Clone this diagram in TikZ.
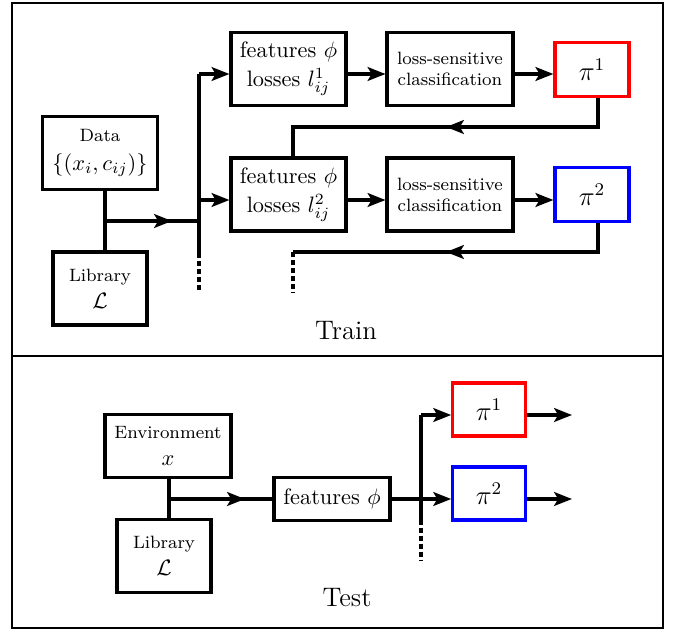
\documentclass[tikz,border=0pt]{standalone}
\usetikzlibrary{arrows.meta}
\begin{document}
\begin{tikzpicture}[x=0.448pt,y=-0.448pt,
 box/.style={draw,line width=1.4pt,inner sep=0pt,align=center},
 wire/.style={line width=1.4pt},
 arr/.style={line width=1.4pt,-{Stealth[length=8pt,width=6.2pt,inset=1.8pt]}},
 dashwire/.style={line width=1.4pt,dash pattern=on 2.2pt off 1.4pt},
 frame/.style={line width=0.8pt}]
\useasboundingbox (0,0) rectangle (681,629);
% frames
\coordinate (ftl) at (12,3);
\coordinate (fbr) at (663,628);
\coordinate (fml) at (12,356);
\coordinate (fmr) at (663,356);
\draw[frame] (ftl) rectangle (fbr);
\draw[frame] (fml) -- (fmr);

% ---------- Train ----------
\node[box,minimum width=51.5pt,minimum height=32.7pt] (data) at (100,153) {{\footnotesize Data}\\[1pt] $\{(x_i,c_{ij})\}$};
\node[box,minimum width=42.1pt,minimum height=32.7pt] (lib) at (100,288.5) {{\footnotesize Library}\\ $\mathcal{L}$};
\node[box,minimum width=51.5pt,minimum height=32.7pt] (f1) at (288.5,69) {features $\phi$\\[1pt] losses $l^1_{ij}$};
\node[box,minimum width=51.5pt,minimum height=32.7pt] (f2) at (288.5,194.5) {features $\phi$\\[1pt] losses $l^2_{ij}$};
\node[box,minimum width=56.4pt,minimum height=32.7pt,font=\footnotesize] (l1) at (450,69) {loss-sensitive\\ classification};
\node[box,minimum width=56.4pt,minimum height=32.7pt,font=\footnotesize] (l2) at (450,194.5) {loss-sensitive\\ classification};
\node[box,draw=red,minimum width=33.2pt,minimum height=24.2pt] (p1) at (592,69.5) {\large $\pi^1$};
\node[box,draw=blue,minimum width=33.2pt,minimum height=24.2pt] (p2) at (592,194.5) {\large $\pi^2$};
\node[font=\large] (train) at (346,331) {Train};

\coordinate (bt) at (199,74);
\coordinate (bm) at (199,200);
\coordinate (bj) at (199,221);
\coordinate (bs) at (199,253);
\coordinate (be) at (199,293);
\coordinate (j1) at (105,221);
\coordinate (j1a) at (172,221);
\coordinate (r2) at (199,200);

\draw[wire] (data.south -| j1) -- (lib.north -| j1);
\draw[wire] (j1) -- (bj);
\draw[arr] (j1) -- (j1a);
\draw[wire] (bt) -- (bs);
\draw[dashwire] (bs) -- (be);
\draw[arr] (bt) -- (f1.west |- bt);
\draw[arr] (bm) -- (f2.west |- bm);
\draw[arr] (f1.east |- bt) -- (l1.west |- bt);
\draw[arr] (l1.east |- bt) -- (p1.west |- bt);
\draw[arr] (f2.east |- r2) -- (l2.west |- r2);
\draw[arr] (l2.east |- r2) -- (p2.west |- r2);

% feedback loops
\coordinate (fb1) at (598,127);
\coordinate (fa1) at (446,127);
\coordinate (fc1) at (293,127);
\draw[wire] (p1.south -| fb1) -- (fb1) -- (fc1) -- (f2.north -| fc1);
\draw[arr] (fb1) -- (fa1);
\coordinate (fb2) at (598,252);
\coordinate (fa2) at (446,252);
\coordinate (fc2) at (293,252);
\coordinate (fd2) at (293,293);
\draw[wire] (p2.south -| fb2) -- (fb2) -- (fc2);
\draw[arr] (fb2) -- (fa2);
\draw[dashwire] (fc2) -- (fd2);

% ---------- Test ----------
\node[box,minimum width=56.4pt,minimum height=28.6pt] (env) at (168,446) {{\footnotesize Environment}\\ $x$};
\node[box,minimum width=42.1pt,minimum height=33pt] (libt) at (164,556) {{\footnotesize Library}\\ $\mathcal{L}$};
\node[box,minimum width=52pt,minimum height=19.5pt] (ft) at (332,499) {features $\phi$};
\node[box,draw=red,minimum width=32.5pt,minimum height=23.7pt] (pt1) at (489,409.5) {\large $\pi^1$};
\node[box,draw=blue,minimum width=32.5pt,minimum height=23.7pt] (pt2) at (489,493.5) {\large $\pi^2$};
\node[font=\large] (test) at (347,598) {Test};

\coordinate (jt) at (169,499);
\coordinate (jta) at (245,499);
\coordinate (tbt) at (421,415);
\coordinate (tbm) at (421,499);
\coordinate (tbs) at (421,520);
\coordinate (tbe) at (421,561);
\coordinate (o1) at (572,415);
\coordinate (o2) at (572,499);

\draw[wire] (env.south -| jt) -- (libt.north -| jt);
\draw[wire] (jt) -- (ft.west |- jt);
\draw[arr] (jt) -- (jta);
\draw[wire] (tbt) -- (tbs);
\draw[dashwire] (tbs) -- (tbe);
\draw[arr] (tbt) -- (pt1.west |- tbt);
\draw[arr] (ft.east |- tbm) -- (pt2.west |- tbm);
\draw[arr] (pt1.east |- o1) -- (o1);
\draw[arr] (pt2.east |- o2) -- (o2);
\end{tikzpicture}
\end{document}
